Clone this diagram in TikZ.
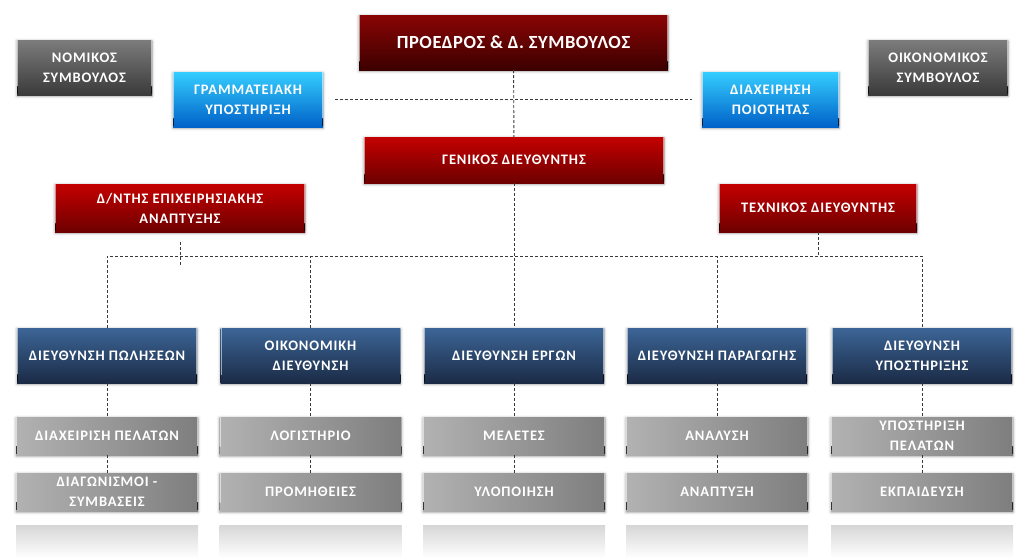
\documentclass[tikz,border=0pt]{standalone}
\usepackage{fontspec}
\setmainfont{Carlito}
\newfontfamily\panelfont[LetterSpace=6]{Carlito Bold}
\newfontfamily\titlefont[LetterSpace=3]{Carlito Bold}
\usetikzlibrary{shadows.blur}

\definecolor{presTop}{HTML}{8A0505}
\definecolor{presBot}{HTML}{3C0000}
\definecolor{redTop}{HTML}{C40000}
\definecolor{redBot}{HTML}{6E0000}
\definecolor{slateTop}{HTML}{7C7C7C}
\definecolor{slateBot}{HTML}{3A3A3A}
\definecolor{cyanTop}{HTML}{35CDFF}
\definecolor{cyanBot}{HTML}{0062C8}
\definecolor{navyTop}{HTML}{3C6596}
\definecolor{navyBot}{HTML}{1B2B46}
\definecolor{unitLeft}{HTML}{B2B2B2}
\definecolor{unitRight}{HTML}{7E7E7E}
\definecolor{linkGray}{HTML}{3A3A3A}

\tikzset{
  x=1pt, y=-1pt,
  panel/.style={rectangle, text=white, align=center, inner sep=0pt,
    font=\panelfont\fontsize{14.5}{20}\selectfont,
    blur shadow={shadow xshift=0pt, shadow yshift=-1pt, shadow opacity=35,
      shadow blur radius=3pt, shadow blur steps=6},
    path picture={
      \draw[white, opacity=0.55, line width=0.8pt]
        ([xshift=0.6pt]path picture bounding box.north west) --
        ([xshift=0.6pt,yshift=8pt]path picture bounding box.south west);
      \draw[white, opacity=0.55, line width=0.8pt]
        ([xshift=-0.6pt]path picture bounding box.north east) --
        ([xshift=-0.6pt,yshift=8pt]path picture bounding box.south east);
      \draw[black, opacity=0.7, line width=1.6pt]
        ([yshift=9pt]path picture bounding box.south west) --
        ([yshift=1pt]path picture bounding box.south west);
      \draw[black, opacity=0.7, line width=1.6pt]
        ([yshift=9pt]path picture bounding box.south east) --
        ([yshift=1pt]path picture bounding box.south east);
    }},
  presbox/.style={panel, top color=presTop, bottom color=presBot,
    font=\titlefont\fontsize{18.5}{22}\selectfont},
  redbox/.style={panel, top color=redTop, bottom color=redBot},
  slatebox/.style={panel, top color=slateTop, bottom color=slateBot},
  cyanbox/.style={panel, top color=cyanTop, bottom color=cyanBot},
  navybox/.style={panel, top color=navyTop, bottom color=navyBot,
    minimum width=180pt, minimum height=55pt},
  unitbox/.style={panel, left color=unitLeft, right color=unitRight,
    minimum width=182pt, minimum height=38pt},
  mirrorbox/.style={rectangle, inner sep=0pt, top color=black!16,
    bottom color=white, minimum width=182pt, minimum height=33pt},
  link/.style={draw=linkGray, line width=0.9pt, dash pattern=on 3pt off 2pt},
}

\begin{document}
\begin{tikzpicture}
\useasboundingbox (0,0) rectangle (1016,558);

% board level
\node[presbox, minimum width=309pt, minimum height=55pt] (pres) at (513.5,42.5)
  {ΠΡΟΕΔΡΟΣ \& Δ. ΣΥΜΒΟΥΛΟΣ};
\node[slatebox, minimum width=135pt, minimum height=55pt] (legal) at (84.5,67.5)
  {ΝΟΜΙΚΟΣ\\ΣΥΜΒΟΥΛΟΣ};
\node[slatebox, minimum width=140pt, minimum height=55pt] (finadv) at (938,67.5)
  {ΟΙΚΟΝΟΜΙΚΟΣ\\ΣΥΜΒΟΥΛΟΣ};
\node[cyanbox, minimum width=150pt, minimum height=55pt] (secr) at (248,99.5)
  {ΓΡΑΜΜΑΤΕΙΑΚΗ\\ΥΠΟΣΤΗΡΙΞΗ};
\node[cyanbox, minimum width=137pt, minimum height=55pt] (qual) at (770.5,99.5)
  {ΔΙΑΧΕΙΡΗΣΗ\\ΠΟΙΟΤΗΤΑΣ};

% management level
\node[redbox, minimum width=300pt, minimum height=46pt] (gm) at (514,160)
  {ΓΕΝΙΚΟΣ ΔΙΕΥΘΥΝΤΗΣ};
\node[redbox, minimum width=250pt, minimum height=48pt] (bizdev) at (180,208)
  {Δ/ΝΤΗΣ ΕΠΙΧΕΙΡΗΣΙΑΚΗΣ\\ΑΝΑΠΤΥΞΗΣ};
\node[redbox, minimum width=198pt, minimum height=48pt] (tech) at (818,208)
  {ΤΕΧΝΙΚΟΣ ΔΙΕΥΘΥΝΤΗΣ};

% departments
\node[navybox] (d1) at (107,355.5) {ΔΙΕΥΘΥΝΣΗ ΠΩΛΗΣΕΩΝ};
\node[navybox] (d2) at (310.5,355.5) {ΟΙΚΟΝΟΜΙΚΗ\\ΔΙΕΥΘΥΝΣΗ};
\node[navybox] (d3) at (514,355.5) {ΔΙΕΥΘΥΝΣΗ ΕΡΓΩΝ};
\node[navybox] (d4) at (717,355.5) {ΔΙΕΥΘΥΝΣΗ ΠΑΡΑΓΩΓΗΣ};
\node[navybox] (d5) at (922,355.5) {ΔΙΕΥΘΥΝΣΗ\\ΥΠΟΣΤΗΡΙΞΗΣ};

% units, first row
\node[unitbox] (u11) at (107,436) {ΔΙΑΧΕΙΡΙΣΗ ΠΕΛΑΤΩΝ};
\node[unitbox] (u21) at (310.5,436) {ΛΟΓΙΣΤΗΡΙΟ};
\node[unitbox] (u31) at (514,436) {ΜΕΛΕΤΕΣ};
\node[unitbox] (u41) at (717,436) {ΑΝΑΛΥΣΗ};
\node[unitbox] (u51) at (922,436) {ΥΠΟΣΤΗΡΙΞΗ\\ΠΕΛΑΤΩΝ};

% units, second row
\node[unitbox] (u12) at (107,492) {ΔΙΑΓΩΝΙΣΜΟΙ -\\ΣΥΜΒΑΣΕΙΣ};
\node[unitbox] (u22) at (310.5,492) {ΠΡΟΜΗΘΕΙΕΣ};
\node[unitbox] (u32) at (514,492) {ΥΛΟΠΟΙΗΣΗ};
\node[unitbox] (u42) at (717,492) {ΑΝΑΠΤΥΞΗ};
\node[unitbox] (u52) at (922,492) {ΕΚΠΑΙΔΕΥΣΗ};

% mirrored floor under the columns
\foreach \cx/\nm in {107/m1, 310.5/m2, 514/m3, 717/m4, 922/m5}
  \node[mirrorbox] (\nm) at (\cx,541.5) {};

% connectors
\coordinate (bus) at (514,256);
\coordinate (bizdevtail) at (180,267);
\draw[link] (pres) -- (gm);
\draw[link, shorten <=12pt, shorten >=10pt] (secr) -- (qual);
\draw[link] (gm) -- (d3);
\draw[link] (d1) -- (d1.north |- bus) -- (d5.north |- bus) -- (d5);
\draw[link] (d2) -- (d2.north |- bus);
\draw[link] (d4) -- (d4.north |- bus);
\draw[link, shorten <=10pt] (bizdev) -- (bizdevtail);
\draw[link] (tech) -- (tech.south |- bus);
\foreach \c in {1,...,5} {
  \draw[link] (d\c) -- (u\c1);
  \draw[link] (u\c1) -- (u\c2);
}
\end{tikzpicture}
\end{document}
